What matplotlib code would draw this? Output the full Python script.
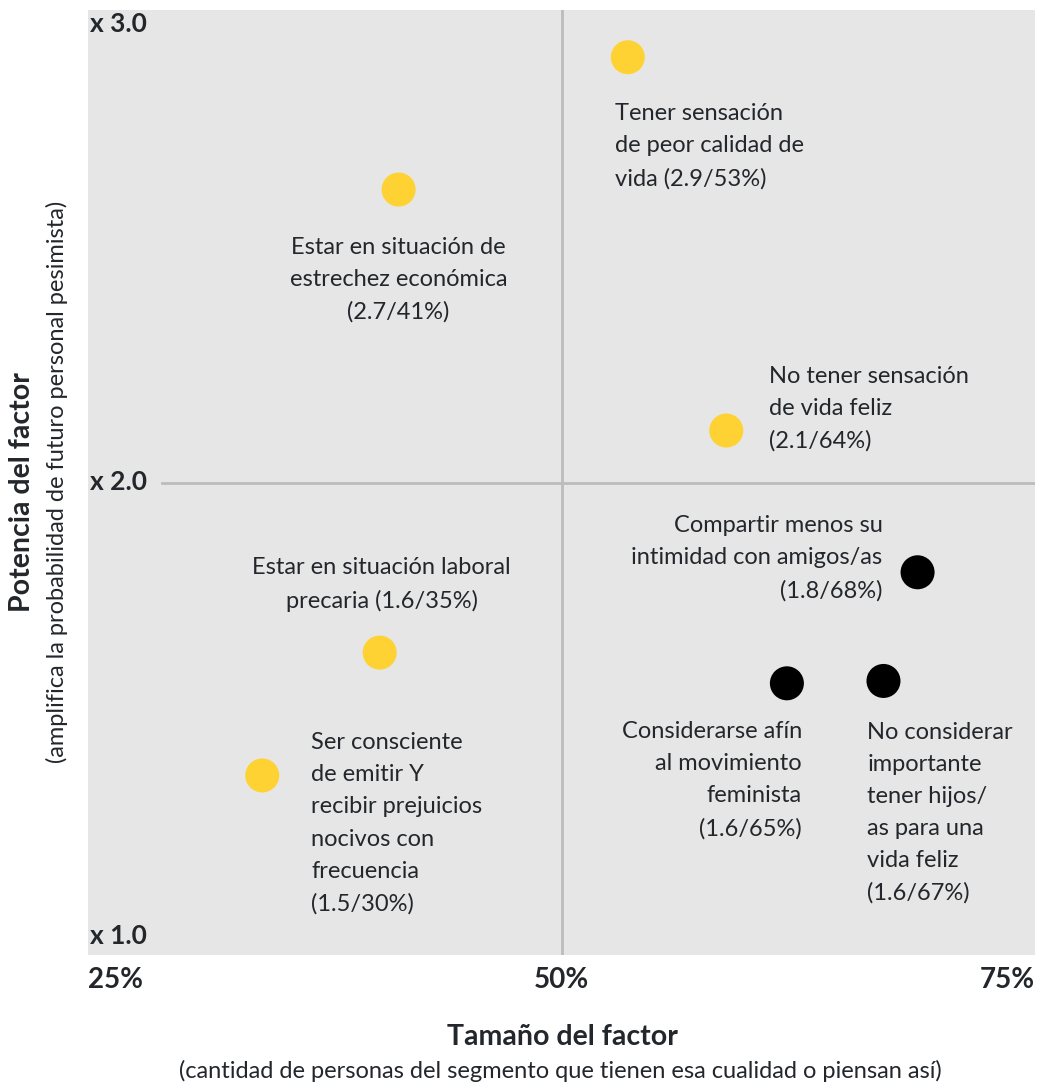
import matplotlib.pyplot as plt

plt.rcParams['font.family'] = ['Lato', 'DejaVu Sans']

# tamaño del factor (%) y potencia del factor (x)
tamano = [53.5, 41.4, 58.7, 68.8, 40.4, 61.9, 67.0, 34.2]
potencia = [2.90, 2.62, 2.11, 1.81, 1.64, 1.575, 1.58, 1.38]
etiquetas = [
    "Tener sensación\nde peor calidad de\nvida (2.9/53%)",
    "Estar en situación de\nestrechez económica\n(2.7/41%)",
    "No tener sensación\nde vida feliz\n(2.1/64%)",
    "Compartir menos su\nintimidad con amigos/as\n(1.8/68%)",
    "Estar en situación laboral\nprecaria (1.6/35%)",
    "Considerarse afín\nal movimiento\nfeminista\n(1.6/65%)",
    "No considerar\nimportante\ntener hijos/\nas para una\nvida feliz\n(1.6/67%)",
    "Ser consciente\nde emitir Y\nrecibir prejuicios\nnocivos con\nfrecuencia\n(1.5/30%)",
]
grupo = ['a', 'a', 'a', 'b', 'a', 'b', 'b', 'a']
colores = {'a': '#FFD233', 'b': '#000000'}

# posición de las etiquetas respecto al punto (pixeles) y alineación
offsets = [(-13, -89), (0, -90), (43, 22), (-35, 14), (2, 68), (15, -97), (-16, -132), (49, -48)]
alineacion = ['left', 'center', 'left', 'right', 'center', 'right', 'left', 'left']

xticks = [25, 50, 75]
xlabels = ['25%', '50%', '75%']
yticks = [1.0, 2.0, 3.0]
ylabels = ['x 1.0', 'x 2.0', 'x 3.0']

texto = '#23272b'
fondo = '#e6e6e6'
lineas = '#bcbcbc'

fig = plt.figure(figsize=(10.37, 10.84), dpi=100)
ax = fig.add_axes([88 / 1037, 1 - 955 / 1084, 947 / 1037, 945 / 1084])
ax.set_facecolor(fondo)
ax.set_xlim(25, 75)
ax.set_ylim(1, 3)
for s in ax.spines.values():
    s.set_visible(False)

ax.axvline(50, color=lineas, lw=2, zorder=1)
ax.axhline(2, xmin=74 / 947, xmax=1, color=lineas, lw=2, zorder=1)

ax.scatter(tamano, potencia, s=600, c=[colores[g] for g in grupo], zorder=3, linewidths=0)

for x, y, lab, off, ha in zip(tamano, potencia, etiquetas, offsets, alineacion):
    ax.annotate(lab, (x, y), xytext=off, textcoords='offset pixels', ha=ha, va='center',
                multialignment=ha, fontsize=17, color=texto, linespacing=1.65)

# ejes
ax.set_xticks(xticks)
ax.set_xticklabels(xlabels, fontsize=20, fontweight='bold', color=texto)
for t, ha in zip(ax.get_xticklabels(), ['left', 'center', 'right']):
    t.set_ha(ha)
ax.tick_params(axis='x', length=0, pad=9)
ax.set_yticks([])

tr = ax.get_yaxis_transform()
for v, lab, va, dy in zip(yticks, ylabels, ['bottom', 'center', 'top'], [0.015, 0, -0.005]):
    ax.text(0.002, v + dy, lab, transform=tr, ha='left', va=va, fontsize=19,
            fontweight='bold', color=texto)

fig.text(22 / 1037, 1 - 492 / 1084, 'Potencia del factor', rotation=90, ha='center', va='center',
         fontsize=20.5, fontweight='bold', color=texto)
fig.text(57 / 1037, 1 - 482 / 1084, '(amplifica la probabilidad de futuro personal pesimista)',
         rotation=90, ha='center', va='center', fontsize=17, color=texto)
fig.text(562 / 1037, 1 - 1037 / 1084, 'Tamaño del factor', ha='center', va='center',
         fontsize=20.5, fontweight='bold', color=texto)
fig.text(560 / 1037, 1 - 1071 / 1084,
         '(cantidad de personas del segmento que tienen esa cualidad o piensan así)',
         ha='center', va='center', fontsize=17, color=texto)

fig.savefig('out.png', dpi=100, facecolor='white')
